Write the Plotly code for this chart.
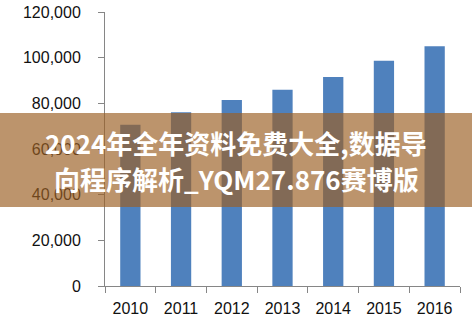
import plotly.graph_objects as go

# Annual totals, 2010-2016
years = ["2010", "2011", "2012", "2013", "2014", "2015", "2016"]
values = [70600, 76100, 81500, 85900, 91500, 98600, 105000]

y_ticks = [0, 20000, 40000, 60000, 80000, 100000, 120000]
y_tick_text = ["0", "20,000", "40,000", "60,000", "80,000", "100,000", "120,000"]

banner_lines = ["2024年全年资料免费大全,数据导", "向程序解析_YQM27.876赛博版"]

W, H = 472, 322
ML, MR, MT, MB = 105, 12, 12, 36
PW, PH = W - ML - MR, H - MT - MB

def px_to_paper_x(px):
    return (px - ML) / PW

def px_to_paper_y(py):
    return (H - MB - py) / PH

fig = go.Figure(
    go.Bar(
        x=years,
        y=values,
        marker=dict(color="#4F81BD", line=dict(width=0)),
        width=0.4,
        hoverinfo="skip",
    )
)

axis_grey = "#868686"
fig.update_layout(
    width=W,
    height=H,
    margin=dict(l=ML, r=MR, t=MT, b=MB, pad=0, autoexpand=False),
    paper_bgcolor="white",
    plot_bgcolor="white",
    showlegend=False,
    font=dict(family="Liberation Sans, Arial, sans-serif", size=16, color="#111111"),
    xaxis=dict(
        type="category",
        automargin=False,
        showgrid=False,
        showline=True,
        linecolor=axis_grey,
        linewidth=1,
        ticks="outside",
        tickson="boundaries",
        ticklen=6,
        tickcolor=axis_grey,
        ticklabelstandoff=8,
        range=[-0.5, 6.5],
        zeroline=False,
    ),
    yaxis=dict(
        automargin=False,
        range=[0, 120000],
        tickvals=y_ticks,
        ticktext=y_tick_text,
        showgrid=False,
        showline=True,
        linecolor=axis_grey,
        linewidth=1,
        ticks="outside",
        ticklen=6,
        tickcolor=axis_grey,
        ticklabelstandoff=14,
        zeroline=False,
    ),
)

# Translucent banner across the middle of the figure
fig.add_shape(
    type="rect",
    xref="paper",
    yref="paper",
    x0=px_to_paper_x(0),
    x1=px_to_paper_x(W),
    y0=px_to_paper_y(207),
    y1=px_to_paper_y(113),
    fillcolor="rgba(155,96,36,0.67)",
    line=dict(width=0),
    layer="above",
)

for line_text, cy in zip(banner_lines, [142, 178]):
    fig.add_annotation(
        text=line_text,
        xref="paper",
        yref="paper",
        x=px_to_paper_x(W / 2),
        y=px_to_paper_y(cy),
        xanchor="center",
        yanchor="middle",
        showarrow=False,
        font=dict(family="Noto Sans CJK SC", size=26, color="white", weight="bold"),
    )

fig.write_html("out.html")
